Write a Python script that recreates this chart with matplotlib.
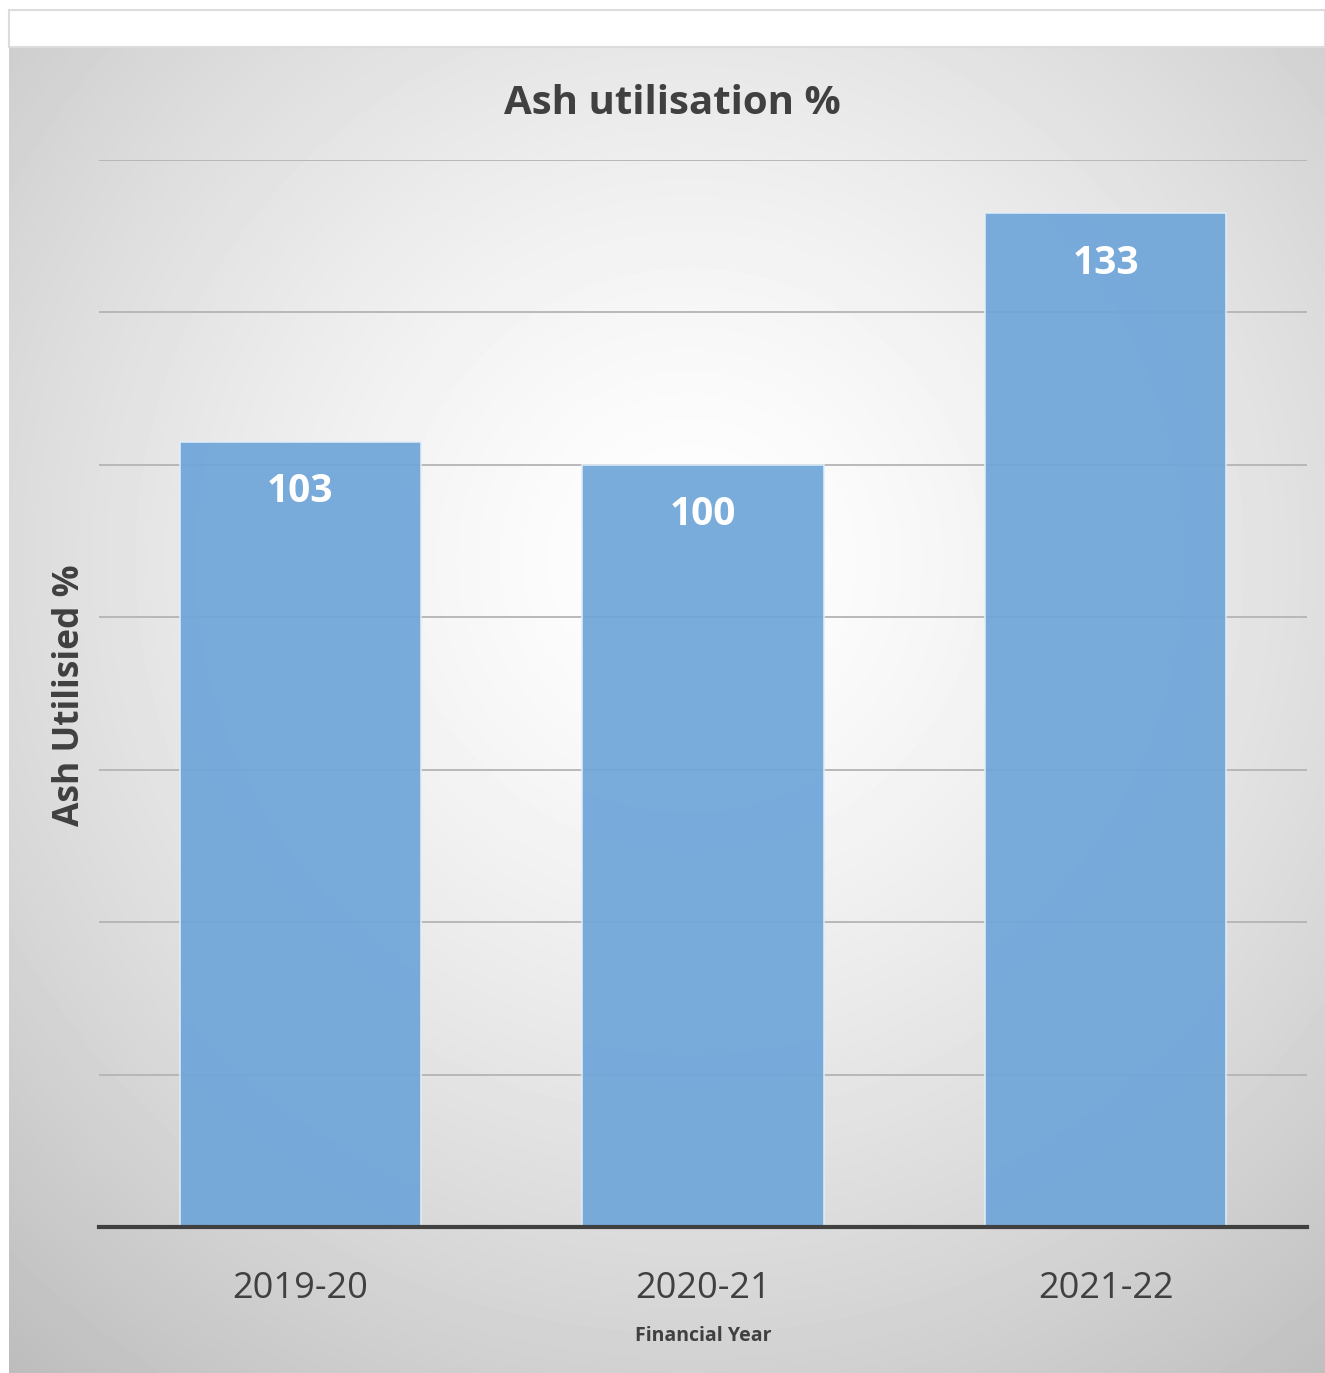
import matplotlib
matplotlib.use("Agg")
import matplotlib.pyplot as plt
from matplotlib.patches import Rectangle
import numpy as np

years = ["2019-20", "2020-21", "2021-22"]
ash_util = [103, 100, 133]

W, H = 1325, 1373
fig = plt.figure(figsize=(W / 100, H / 100), dpi=100)
fig.patch.set_facecolor("white")

# top white strip with thin border
fig.add_artist(Rectangle((9 / W, 1 - 47 / H), 1 - 9 / W, 37 / H, transform=fig.transFigure,
                         facecolor="white", edgecolor="#dcdcdc", linewidth=1.5))

# radial gradient background
bg = fig.add_axes([9 / W, 0, 1 - 9 / W, 1 - 47 / H])
gx, gy = np.meshgrid(np.linspace(9, W, 400), np.linspace(47, H, 400))
d = np.hypot(gx - 690, gy - 560) / 1000
shade = np.clip(1.0 - 0.24 * d ** 1.4, 0.74, 1.0)
bg.imshow(shade, cmap="gray", vmin=0, vmax=1, aspect="auto", extent=[0, 1, 0, 1],
          origin="upper", interpolation="bilinear")
bg.axis("off")

ax = fig.add_axes([99 / W, 1 - 1227 / H, (1307 - 99) / W, (1227 - 160) / H])
ax.patch.set_alpha(0)
x = np.arange(len(years))
bars = ax.bar(x, ash_util, width=0.6, color="#6fa6d9", alpha=0.93,
              edgecolor="#e2eef9", linewidth=1.2, zorder=2)
for xi, v in zip(x, ash_util):
    ax.text(xi, v - 4, str(v), ha="center", va="top", color="white",
            fontsize=28, weight="bold", family="Open Sans", zorder=3)

ax.set_xlim(-0.5, 2.5)
ax.set_ylim(0, 140)
ax.set_yticks(np.arange(0, 141, 20))
ax.yaxis.grid(True, color="#b4b4b4", linewidth=1.3, zorder=1)
ax.set_axisbelow(True)
ax.tick_params(axis="y", left=False, labelleft=False)
ax.tick_params(axis="x", bottom=False, pad=28, labelsize=26, labelcolor="#404040")
ax.set_xticks(x)
ax.set_xticklabels(years, family="Open Sans")
for s in ["top", "right", "left"]:
    ax.spines[s].set_visible(False)
ax.spines["bottom"].set_color("#404040")
ax.spines["bottom"].set_linewidth(3)
ax.spines["bottom"].set_zorder(4)

ax.set_xlabel("Financial Year", fontsize=14, weight="bold", color="#404040",
              family="Open Sans", labelpad=14)
fig.text(70 / W, 1 - 695 / H, "Ash Utilisied %", rotation=90, ha="center", va="center",
         fontsize=25.5, weight="bold", color="#404040", family="Open Sans")
fig.text(672 / W, 1 - 103 / H, "Ash utilisation %", ha="center", va="center",
         fontsize=29, weight="bold", color="#404040", family="Open Sans")

fig.savefig("out.png", dpi=100)
